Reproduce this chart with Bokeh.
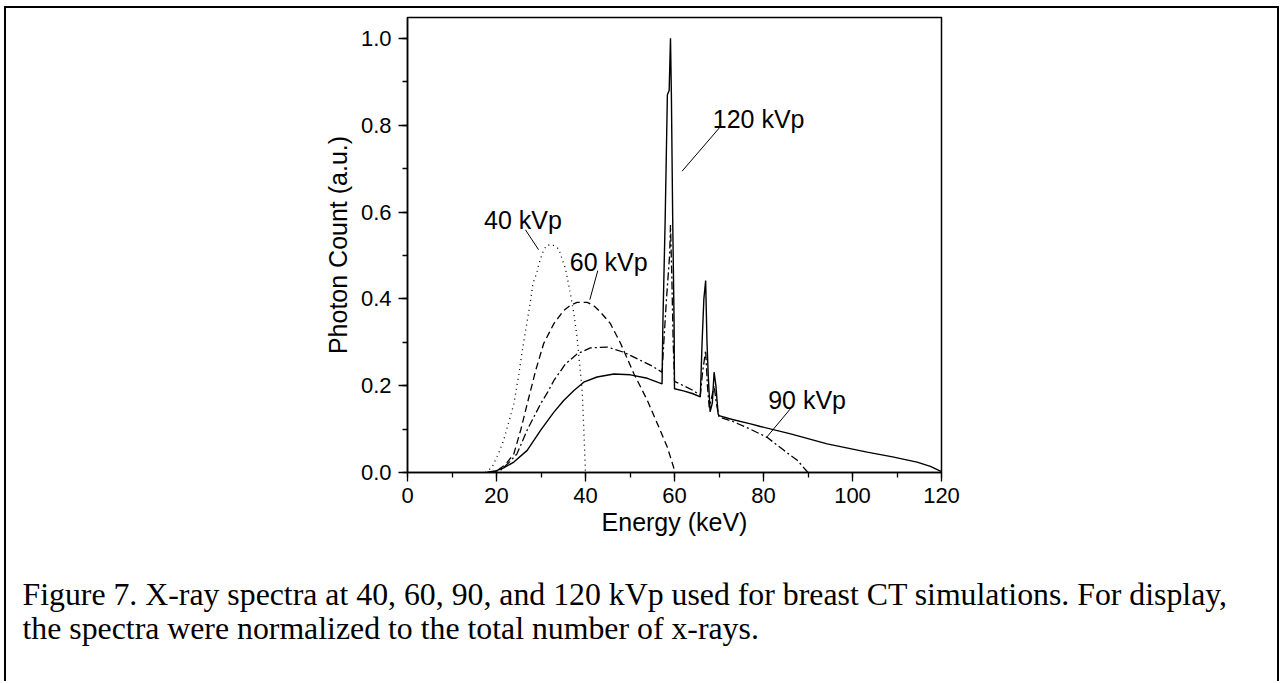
from bokeh.plotting import figure
from bokeh.models import (Range1d, SingleIntervalTicker, PrintfTickFormatter,
                          Label, Title)
from bokeh.embed import file_html
from bokeh.resources import INLINE

# ---------------- data ----------------
e40 = [17.5, 19.0, 20.5, 21.6, 23.0, 23.9, 25.0, 25.8, 27.0, 27.6, 28.2, 29.0, 29.5,
       30.3, 31.2, 32.5, 34.0, 34.8, 35.5, 36.6, 37.4, 38.1, 38.9, 39.3, 39.6, 40.0]
v40 = [0.0, 0.012, 0.045, 0.074, 0.125, 0.158, 0.225, 0.281, 0.355, 0.392, 0.436, 0.458, 0.479,
       0.505, 0.523, 0.525, 0.515, 0.490, 0.470, 0.412, 0.365, 0.312, 0.227, 0.180, 0.104, 0.0]

e60 = [18.0, 20.2, 22.0, 23.9, 25.5, 26.9, 28.8, 30.6, 32.9, 35.1, 36.6, 38.1, 40.4,
       42.0, 43.4, 45.6, 47.9, 50.9, 53.9, 56.5, 58.4, 59.8, 60.0]
v60 = [0.0, 0.005, 0.018, 0.043, 0.100, 0.158, 0.235, 0.297, 0.343, 0.373, 0.385, 0.392, 0.392,
       0.383, 0.369, 0.343, 0.297, 0.227, 0.166, 0.104, 0.058, 0.012, 0.0]

e90 = [18.5, 20.9, 23.0, 24.6, 27.0, 29.9, 31.5, 32.9, 35.5, 38.1, 41.1, 44.9, 48.6, 52.4,
       55.0, 57.2, 57.6, 58.2, 58.9, 59.1, 59.4, 59.7, 60.0, 62.0, 64.0, 65.8,
       66.3, 67.0, 67.4, 67.8, 68.3, 68.9, 69.4, 70.0, 73.0, 77.0, 80.8, 84.6, 87.6, 90.0]
v90 = [0.0, 0.005, 0.025, 0.043, 0.100, 0.158, 0.185, 0.212, 0.250, 0.273, 0.287, 0.289, 0.277, 0.258,
       0.245, 0.231, 0.300, 0.400, 0.500, 0.570, 0.450, 0.300, 0.210, 0.200, 0.190, 0.178,
       0.230, 0.281, 0.200, 0.150, 0.170, 0.200, 0.160, 0.128, 0.118, 0.100, 0.081, 0.051, 0.028, 0.0]

e120 = [17.8, 19.4, 21.5, 23.9, 26.9, 29.9, 32.9, 35.1, 37.4, 39.6, 42.6, 46.4, 50.1, 53.9,
        57.2, 57.4, 57.9, 58.4, 58.8, 59.1, 59.3, 59.6, 59.9, 60.0,
        62.0, 64.0, 65.8, 66.2, 66.6, 67.0, 67.3, 67.6, 68.0, 68.5, 68.9, 69.3, 69.8, 70.0,
        73.0, 77.1, 79.3, 86.1, 94.3, 103.3, 109.0, 114.5, 117.5, 120.0]
v120 = [0.0, 0.002, 0.010, 0.024, 0.051, 0.097, 0.139, 0.166, 0.189, 0.208, 0.220, 0.227, 0.225, 0.217,
        0.204, 0.350, 0.580, 0.870, 0.880, 1.000, 0.870, 0.580, 0.350, 0.193,
        0.188, 0.182, 0.174, 0.300, 0.400, 0.442, 0.300, 0.220, 0.140, 0.160, 0.231, 0.200, 0.135, 0.131,
        0.122, 0.112, 0.106, 0.089, 0.066, 0.047, 0.036, 0.024, 0.014, 0.002]

x_ticks_interval = 20
y_ticks_interval = 0.2

series_labels = ["40 kVp", "60 kVp", "90 kVp", "120 kVp"]
label_x = [25.96, 45.2, 89.8, 78.9]
label_y = [0.582, 0.4846, 0.1675, 0.815]
leader_x = [[26.5, 29.46], [42.76, 40.97], [86.3, 80.7], [70.1, 61.7]]
leader_y = [[0.559, 0.513], [0.465, 0.398], [0.150, 0.081], [0.794, 0.694]]

caption_lines = [
    "Figure 7. X-ray spectra at 40, 60, 90, and 120 kVp used for breast CT simulations. For display,",
    "the spectra were normalized to the total number of x-rays.",
]

# ---------------- figure ----------------
SANS = "Liberation Sans"
SERIF = "Liberation Serif"

p = figure(width=1275, height=675, output_backend="svg", toolbar_location=None,
           x_range=Range1d(0, 120), y_range=Range1d(0, 1.048),
           min_border_left=401, min_border_right=340, min_border_top=9, min_border_bottom=211)
p.margin = (6, 0, 0, 4)
p.styles = {"border-left": "2px solid black", "border-top": "2px solid black",
            "border-right": "2px solid black"}
p.background_fill_color = "white"
p.border_fill_color = "white"
p.grid.visible = False
p.outline_line_color = "black"
p.outline_line_width = 1.5

p.xaxis.ticker = SingleIntervalTicker(interval=x_ticks_interval, num_minor_ticks=2)
p.yaxis.ticker = SingleIntervalTicker(interval=y_ticks_interval, num_minor_ticks=2)
p.yaxis.formatter = PrintfTickFormatter(format="%.1f")
p.xaxis.axis_label = "Energy (keV)"
p.yaxis.axis_label = "Photon Count (a.u.)"
for ax in (p.xaxis, p.yaxis):
    ax.axis_line_color = "black"
    ax.axis_line_width = 1.5
    ax.major_tick_line_color = "black"
    ax.minor_tick_line_color = "black"
    ax.major_tick_line_width = 1.3
    ax.minor_tick_line_width = 1.3
    ax.major_tick_in = 0
    ax.major_tick_out = 9
    ax.minor_tick_in = 0
    ax.minor_tick_out = 5
    ax.major_label_text_font = SANS
    ax.major_label_text_font_size = "22px"
    ax.major_label_text_color = "black"
    ax.axis_label_text_font = SANS
    ax.axis_label_text_font_size = "25px"
    ax.axis_label_text_font_style = "normal"
    ax.axis_label_text_color = "black"
p.xaxis.major_label_standoff = 6
p.yaxis.major_label_standoff = 7
p.xaxis.axis_label_standoff = 2
p.yaxis.axis_label_standoff = 6

p.line(e40, v40, line_color="black", line_width=1.3, line_dash="1 4")
p.line(e60, v60, line_color="black", line_width=1.3, line_dash="7 4")
p.line(e90, v90, line_color="black", line_width=1.3, line_dash="8 3 2 3")
p.line(e120, v120, line_color="black", line_width=1.4)

for i, t in enumerate(series_labels):
    p.add_layout(Label(x=label_x[i], y=label_y[i], text=t, text_align="center",
                       text_baseline="alphabetic", text_font=SANS,
                       text_font_size="25px", text_color="black"))
    p.line(leader_x[i], leader_y[i], line_color="black", line_width=1)

# caption as a two-line title below the x axis
p.add_layout(Title(text="\n".join(caption_lines), align="left", offset=-385, standoff=73,
                   text_font=SERIF, text_font_size="31.8px", text_font_style="normal",
                   text_line_height=0.97, text_color="black"), "below")

open("out.html", "w").write(file_html(p, INLINE))
